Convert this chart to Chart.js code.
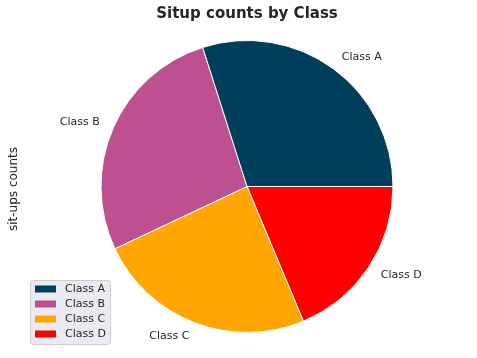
<!DOCTYPE html>
<html>
<head>
<meta charset="utf-8">
<script src="https://cdn.jsdelivr.net/npm/chart.js@4.4.1/dist/chart.umd.min.js"></script>
<style>
    html, body { margin: 0; padding: 0; background: #ffffff; }
    #wrap { width: 477px; height: 358px; position: relative; }
</style>
</head>
<body>
<div id="wrap"><canvas id="pieChart"></canvas></div>
<script>
// Chart data
const classes = ["Class A", "Class B", "Class C", "Class D"];
const situpCounts = [32, 29, 26, 20];
const classColors = ["#003f5c", "#bc5090", "#ffa600", "#ff0000"];

const textColor = "#262626";
const fontFamily = "'DejaVu Sans', sans-serif";

// matplotlib draws counter-clockwise from 3 o'clock, Chart.js clockwise -> reverse order
const drawLabels = classes.slice().reverse();
const drawCounts = situpCounts.slice().reverse();
const drawColors = classColors.slice().reverse();

// Slice labels outside the pie (like matplotlib labels=)
const sliceLabels = {
    id: "sliceLabels",
    afterDraw(chart) {
        const ctx = chart.ctx;
        const arcs = chart.getDatasetMeta(0).data;
        ctx.save();
        ctx.font = "11px " + fontFamily;
        ctx.fillStyle = textColor;
        ctx.textBaseline = "middle";
        arcs.forEach((arc, i) => {
            const p = arc.getProps(["x", "y", "startAngle", "endAngle", "outerRadius"], true);
            const mid = (p.startAngle + p.endAngle) / 2;
            const r = p.outerRadius * 1.1;
            const x = p.x + r * Math.cos(mid);
            const y = p.y + r * Math.sin(mid);
            ctx.textAlign = Math.cos(mid) >= 0 ? "left" : "right";
            ctx.fillText(drawLabels[i], x, y);
        });
        ctx.restore();
    }
};

// y axis label
const yLabel = {
    id: "yLabel",
    afterDraw(chart) {
        const ctx = chart.ctx;
        ctx.save();
        ctx.translate(14, 189);
        ctx.rotate(-Math.PI / 2);
        ctx.font = "12px " + fontFamily;
        ctx.fillStyle = textColor;
        ctx.textAlign = "center";
        ctx.textBaseline = "middle";
        ctx.fillText("sit-ups counts", 0, 0);
        ctx.restore();
    }
};

// Legend box in the lower left, drawn over the pie
const boxLegend = {
    id: "boxLegend",
    afterDraw(chart) {
        const ctx = chart.ctx;
        const bx = 30.5, by = 280.5, bw = 80, bh = 64;
        ctx.save();
        ctx.beginPath();
        ctx.roundRect(bx, by, bw, bh, 3);
        ctx.fillStyle = "#eaeaf2";
        ctx.fill();
        ctx.strokeStyle = "#cccccc";
        ctx.lineWidth = 1;
        ctx.stroke();

        ctx.font = "11px " + fontFamily;
        ctx.textBaseline = "middle";
        ctx.textAlign = "left";
        classes.forEach((name, i) => {
            const cy = 289 + i * 15;
            ctx.fillStyle = classColors[i];
            ctx.fillRect(35, cy - 3.5, 21, 7);
            ctx.fillStyle = textColor;
            ctx.fillText(name, 65, cy);
        });
        ctx.restore();
    }
};

const ctx = document.getElementById("pieChart").getContext("2d");

new Chart(ctx, {
    type: "pie",
    data: {
        labels: drawLabels,
        datasets: [{
            data: drawCounts,
            backgroundColor: drawColors,
            borderColor: "#ffffff",
            borderWidth: 1
        }]
    },
    options: {
        responsive: true,
        maintainAspectRatio: false,
        animation: false,
        rotation: 90,
        layout: {
            padding: { top: 0, bottom: 25, left: 30, right: 13 }
        },
        plugins: {
            legend: { display: false },
            tooltip: { enabled: false },
            title: {
                display: true,
                text: "Situp counts by Class",
                color: textColor,
                font: { family: fontFamily, size: 15, weight: "bold" },
                padding: { top: 5, bottom: 17 }
            }
        }
    },
    plugins: [sliceLabels, yLabel, boxLegend]
});
</script>
</body>
</html>
